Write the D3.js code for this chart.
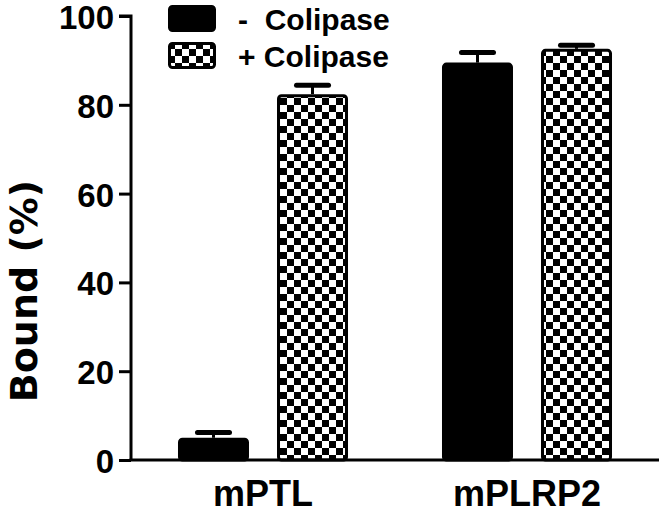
<!DOCTYPE html>
<html><head><meta charset="utf-8">
<script src="https://cdn.jsdelivr.net/npm/d3@7"></script>
<style>
html,body{margin:0;padding:0;background:#fff;}
text{font-family:"Liberation Sans",Arial,sans-serif;font-weight:bold;fill:#000;}
</style></head>
<body>
<svg id="c" width="664" height="513"></svg>
<script>
const categories = ["mPTL", "mPLRP2"];
const seriesNames = ["-  Colipase", "+ Colipase"];
const minusColipase = [5.0, 89.5];
const minusColipaseErr = [1.2, 2.3];
const plusColipase = [82.4, 92.6];
const plusColipaseErr = [2.0, 0.8];
const yTicks = [0, 20, 40, 60, 80, 100];

const svg = d3.select("#c");
const defs = svg.append("defs");
const pat = defs.append("pattern").attr("id","checker")
  .attr("patternUnits","userSpaceOnUse").attr("width",14).attr("height",14);
pat.append("rect").attr("width",14).attr("height",14).attr("fill","#fff");
pat.append("rect").attr("width",7).attr("height",7).attr("fill","#000");
pat.append("rect").attr("x",7).attr("y",7).attr("width",7).attr("height",7).attr("fill","#000");

const x0 = 131, x1 = 659, yBottom = 460, yTop = 16;
const y = d3.scaleLinear().domain([0,100]).range([yBottom, yTop]);
const xg = d3.scaleBand().domain(categories).range([x0, x1]).paddingInner(0.356).paddingOuter(0.178);
const xs = d3.scaleBand().domain([0,1]).range([0, xg.bandwidth()]).paddingInner(0.283).paddingOuter(0);

const series = [
  {vals: minusColipase, errs: minusColipaseErr, fill: "#000"},
  {vals: plusColipase, errs: plusColipaseErr, fill: "url(#checker)"}
];

const sw = 3;
series.forEach((s, si) => {
  categories.forEach((c, ci) => {
    const bx = xg(c) + xs(si);
    const bw = xs.bandwidth();
    const top = y(s.vals[ci]);
    const cx = bx + bw/2;
    const et = y(s.vals[ci]+s.errs[ci]);
    svg.append("line").attr("x1",cx).attr("x2",cx)
      .attr("y1",top).attr("y2",et)
      .attr("stroke","#000").attr("stroke-width",3);
    svg.append("line").attr("x1",cx-16).attr("x2",cx+16)
      .attr("y1",et).attr("y2",et)
      .attr("stroke","#000").attr("stroke-width",5).attr("stroke-linecap","round");
    svg.append("rect")
      .attr("x", bx + sw/2).attr("y", top + sw/2)
      .attr("width", bw - sw).attr("height", Math.max(0, yBottom - top - sw/2))
      .attr("rx", 3).attr("ry", 3)
      .attr("fill", s.fill).attr("stroke","#000").attr("stroke-width", sw);
  });
});

// y axis
const yAxis = d3.axisLeft(y).tickValues(yTicks).tickSize(12).tickPadding(5);
const ga = svg.append("g").attr("transform",`translate(${x0},0)`).call(yAxis);
ga.select(".domain").attr("stroke-width",3).attr("d",`M-12,${yTop}H0V${yBottom}`);
ga.selectAll(".tick line").attr("stroke-width",3);
ga.selectAll(".tick text").style("font-size","33px").attr("dy","0.38em");

// x axis
const xAxis = d3.axisBottom(xg).tickSize(0).tickPadding(20);
const gx = svg.append("g").attr("transform",`translate(0,${yBottom})`).call(xAxis);
gx.select(".domain").attr("stroke-width",3).attr("d",`M${x0-1.5},0H${x1}`);
gx.selectAll(".tick text").style("font-size","36px").attr("dy","0.71em");

// y label
svg.append("text").attr("transform",`translate(37,291) rotate(-90)`)
  .attr("text-anchor","middle")
  .style("font-family","'DejaVu Sans',sans-serif")
  .style("font-size","38px").text("Bound (%)");

// legend
const legY = [5, 42];
seriesNames.forEach((n, i) => {
  svg.append("rect").attr("x",169.5).attr("y",legY[i]+1.5).attr("width",45).attr("height",24)
    .attr("rx",3).attr("fill", series[i].fill).attr("stroke","#000").attr("stroke-width",3);
  svg.append("text").attr("x",238).attr("y",legY[i]+25)
    .style("font-size","30px").style("white-space","pre").text(n);
});
</script>
</body></html>
